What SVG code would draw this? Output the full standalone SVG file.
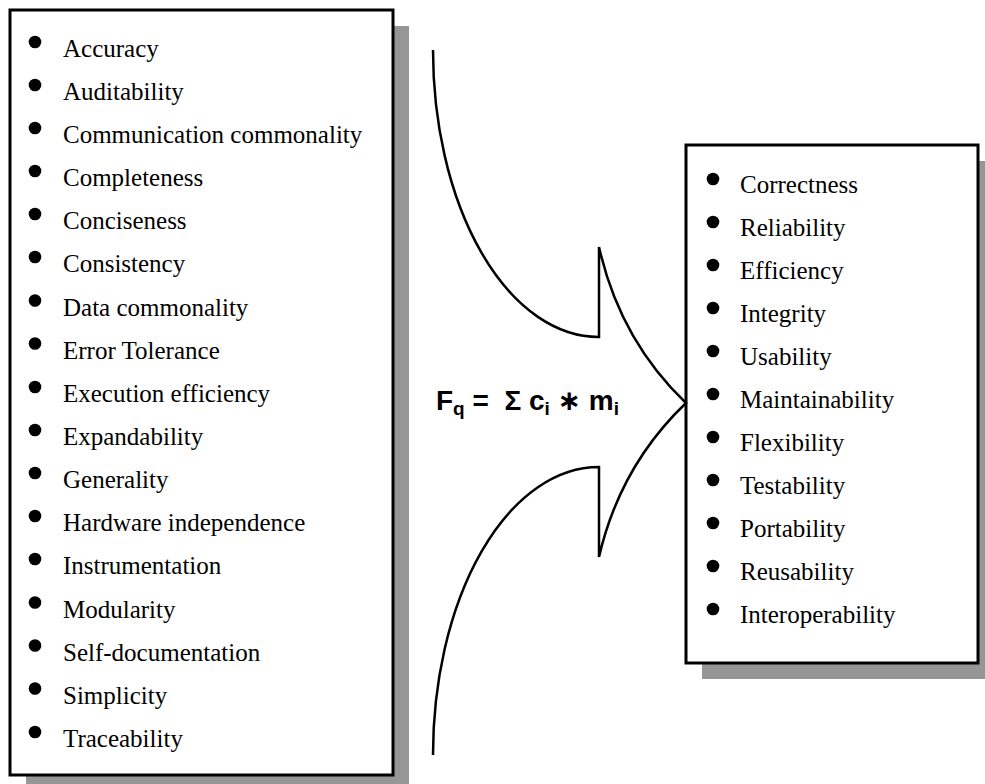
<svg xmlns="http://www.w3.org/2000/svg" width="985" height="784" viewBox="0 0 985 784">
<style>
.shadow{fill:#969696;stroke:none}
.box{fill:#ffffff;stroke:#000000;stroke-width:3}
.item{font-family:"Liberation Serif","Times New Roman",serif;font-size:25px;fill:#000000}
.bullet{fill:#000000}
.arrow{fill:none;stroke:#000000;stroke-width:2.5;stroke-linejoin:miter}
.formula{font-family:"Liberation Sans",Arial,"DejaVu Sans",sans-serif;font-weight:bold;font-size:28px;fill:#000000}
</style>
<rect width="985" height="784" fill="#ffffff"/>

<g id="metrics-box">
<rect class="shadow" x="26" y="26" width="383" height="765"/>
<rect class="box" x="10" y="10" width="383" height="765"/>
<g class="bullet">
<circle cx="35" cy="42" r="6.3"/>
<circle cx="35" cy="85" r="6.3"/>
<circle cx="35" cy="128" r="6.3"/>
<circle cx="35" cy="171" r="6.3"/>
<circle cx="35" cy="214" r="6.3"/>
<circle cx="35" cy="257" r="6.3"/>
<circle cx="35" cy="300.5" r="6.3"/>
<circle cx="35" cy="343.5" r="6.3"/>
<circle cx="35" cy="387" r="6.3"/>
<circle cx="35" cy="430" r="6.3"/>
<circle cx="35" cy="473" r="6.3"/>
<circle cx="35" cy="516" r="6.3"/>
<circle cx="35" cy="559" r="6.3"/>
<circle cx="35" cy="602.5" r="6.3"/>
<circle cx="35" cy="645.5" r="6.3"/>
<circle cx="35" cy="688.5" r="6.3"/>
<circle cx="35" cy="732" r="6.3"/>
</g>
<text class="item" x="63" y="57">Accuracy</text>
<text class="item" x="63" y="100">Auditability</text>
<text class="item" x="63" y="143">Communication commonality</text>
<text class="item" x="63" y="186">Completeness</text>
<text class="item" x="63" y="229">Conciseness</text>
<text class="item" x="63" y="272">Consistency</text>
<text class="item" x="63" y="315.5">Data commonality</text>
<text class="item" x="63" y="358.5">Error Tolerance</text>
<text class="item" x="63" y="402">Execution efficiency</text>
<text class="item" x="63" y="445">Expandability</text>
<text class="item" x="63" y="488">Generality</text>
<text class="item" x="63" y="531">Hardware independence</text>
<text class="item" x="63" y="574">Instrumentation</text>
<text class="item" x="63" y="617.5">Modularity</text>
<text class="item" x="63" y="660.5">Self-documentation</text>
<text class="item" x="63" y="703.5">Simplicity</text>
<text class="item" x="63" y="747">Traceability</text>
</g>

<g id="factors-box">
<rect class="shadow" x="702" y="161" width="292" height="518"/>
<rect class="box" x="686" y="145" width="292" height="518"/>
<g class="bullet">
<circle cx="713" cy="179" r="6.3"/>
<circle cx="713" cy="222" r="6.3"/>
<circle cx="713" cy="265" r="6.3"/>
<circle cx="713" cy="308" r="6.3"/>
<circle cx="713" cy="351" r="6.3"/>
<circle cx="713" cy="394" r="6.3"/>
<circle cx="713" cy="437" r="6.3"/>
<circle cx="713" cy="480" r="6.3"/>
<circle cx="713" cy="523" r="6.3"/>
<circle cx="713" cy="566" r="6.3"/>
<circle cx="713" cy="609" r="6.3"/>
</g>
<text class="item" x="740" y="193">Correctness</text>
<text class="item" x="740" y="236">Reliability</text>
<text class="item" x="740" y="279">Efficiency</text>
<text class="item" x="740" y="322">Integrity</text>
<text class="item" x="740" y="365">Usability</text>
<text class="item" x="740" y="408">Maintainability</text>
<text class="item" x="740" y="451">Flexibility</text>
<text class="item" x="740" y="494">Testability</text>
<text class="item" x="740" y="537">Portability</text>
<text class="item" x="740" y="580">Reusability</text>
<text class="item" x="740" y="623">Interoperability</text>
</g>

<g id="connectors">
<path class="arrow" d="M433,50 A166,287 0 0 0 599,337 L599,247 Q620,340 686,403 Q620,466 599,557 L599,467 A166,288 0 0 0 433,755"/>
</g>

<g id="formula">
<text class="formula" x="436" y="410">F<tspan font-size="19" dy="5">q</tspan><tspan dy="-5" xml:space="preserve"> =  Σ c</tspan><tspan font-size="19" dy="5">i</tspan><tspan dy="-5" xml:space="preserve"> ∗ m</tspan><tspan font-size="19" dy="5">i</tspan></text>
</g>
</svg>
